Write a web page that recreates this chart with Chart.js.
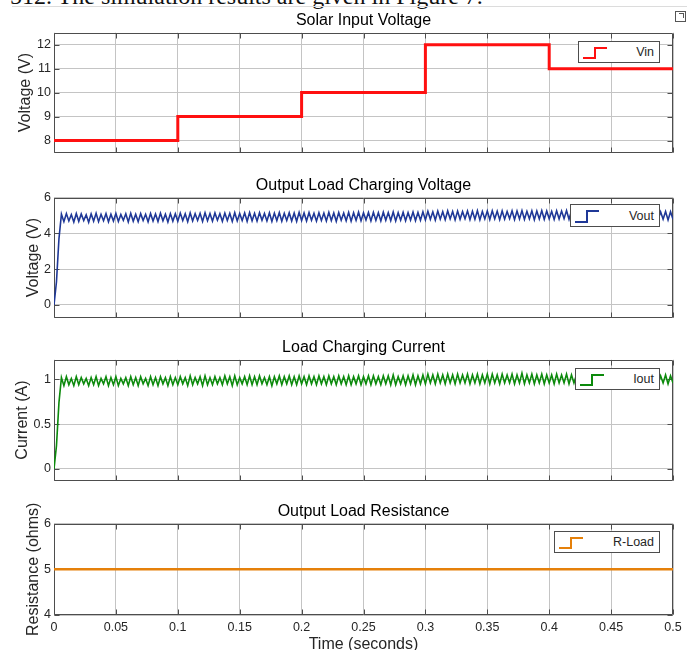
<!DOCTYPE html>
<html>
<head>
<meta charset="utf-8">
<script src="https://cdn.jsdelivr.net/npm/chart.js@4.4.1/dist/chart.umd.min.js"></script>
<style>
  body { margin: 0; width: 693px; height: 650px; overflow: hidden; background: #fff; position: relative; font-family: "Liberation Sans", Arial, sans-serif; }
  .panel { position: absolute; left: 0; }
  .legend { position: absolute; background: #fff; border: 1px solid #4d4d4d; box-sizing: border-box; }
  .legend svg { position: absolute; left: 0; top: 0; }
  .legend span { position: absolute; right: 5px; top: 50%; transform: translateY(-52%); font-size: 12.5px; color: #262626; white-space: nowrap; }
  #caption { position: absolute; left: 10px; top: -16px; font: 24px "Liberation Serif", "Times New Roman", serif; line-height: 24px; color: #111; white-space: nowrap; }
  #rule { position: absolute; left: 12px; top: 6px; width: 675px; height: 1px; background: #dcdcdc; }
  #undock { position: absolute; left: 675px; top: 11px; width: 9px; height: 9px; border: 1px solid #555; background: #fff; }
  #undock::after { content: ""; position: absolute; left: 3px; top: 1px; width: 4px; height: 4px; border-top: 1px solid #555; border-right: 1px solid #555; }
</style>
</head>
<body>
<div id="caption">512. The simulation results are given in Figure 7.</div>
<div id="rule"></div>
<div id="undock"></div>
<canvas id="c1" class="panel" width="693" height="163" style="top:0px"></canvas>
<canvas id="c2" class="panel" width="693" height="163" style="top:165px"></canvas>
<canvas id="c3" class="panel" width="693" height="164" style="top:327px"></canvas>
<canvas id="c4" class="panel" width="693" height="164" style="top:491px"></canvas>
<script>
// ---- data ----
const timeTicks = [0, 0.05, 0.1, 0.15, 0.2, 0.25, 0.3, 0.35, 0.4, 0.45, 0.5];
const timeTickLabels = ['0', '0.05', '0.1', '0.15', '0.2', '0.25', '0.3', '0.35', '0.4', '0.45', '0.5'];

// solar input: level that starts at each time
const vinTimes = [0, 0.1, 0.2, 0.3, 0.4, 0.5];
const vinLevels = [8, 9, 10, 12, 11, 11];
const vinTicks = [8, 9, 10, 11, 12];
const vinTickLabels = ['8', '9', '10', '11', '12'];

// measured traces, one sample every 2 ms from t = 0 to t = 0.5 s
const sampleStep = 0.002;
const voutSamples = [
  0, 1.3, 3.7, 5.08, 4.66, 5.11, 4.70, 5.06, 4.64, 5.12,
  4.68, 5.09, 4.72, 5.05, 4.63, 5.10, 4.69, 5.13, 4.66, 5.07,
  4.71, 5.11, 4.65, 5.08, 4.70, 5.12, 4.67, 5.06, 4.73, 5.10,
  4.64, 5.13, 4.69, 5.08, 4.66, 5.11, 4.72, 5.07, 4.65, 5.12,
  4.70, 5.09, 4.67, 5.13, 4.71, 5.08, 4.64, 5.11, 4.69, 5.10,
  4.68, 5.14, 4.72, 5.10, 4.66, 5.15, 4.70, 5.11, 4.73, 5.13,
  4.67, 5.16, 4.71, 5.12, 4.69, 5.15, 4.74, 5.11, 4.68, 5.14,
  4.72, 5.13, 4.67, 5.16, 4.70, 5.12, 4.73, 5.15, 4.68, 5.17,
  4.71, 5.13, 4.69, 5.16, 4.74, 5.12, 4.70, 5.15, 4.67, 5.14,
  4.72, 5.17, 4.69, 5.13, 4.73, 5.16, 4.70, 5.14, 4.68, 5.18,
  4.72, 5.15, 4.70, 5.17, 4.74, 5.13, 4.69, 5.16, 4.73, 5.14,
  4.70, 5.18, 4.72, 5.15, 4.68, 5.17, 4.74, 5.14, 4.71, 5.18,
  4.69, 5.16, 4.73, 5.19, 4.71, 5.15, 4.75, 5.17, 4.70, 5.18,
  4.73, 5.16, 4.70, 5.19, 4.74, 5.17, 4.72, 5.20, 4.70, 5.16,
  4.74, 5.19, 4.71, 5.17, 4.75, 5.20, 4.72, 5.18, 4.74, 5.21,
  4.76, 5.24, 4.79, 5.21, 4.75, 5.25, 4.80, 5.22, 4.77, 5.26,
  4.81, 5.23, 4.76, 5.25, 4.79, 5.22, 4.82, 5.26, 4.77, 5.24,
  4.80, 5.27, 4.76, 5.23, 4.81, 5.25, 4.78, 5.27, 4.82, 5.24,
  4.77, 5.26, 4.80, 5.23, 4.83, 5.27, 4.78, 5.25, 4.81, 5.28,
  4.79, 5.24, 4.82, 5.27, 4.77, 5.25, 4.81, 5.28, 4.79, 5.26,
  4.82, 5.24, 4.78, 5.27, 4.81, 5.25, 4.83, 5.28, 4.79, 5.26,
  4.82, 5.24, 4.80, 5.27, 4.78, 5.25, 4.82, 5.28, 4.80, 5.25,
  4.83, 5.27, 4.79, 5.24, 4.81, 5.28, 4.78, 5.26, 4.82, 5.25,
  4.80, 5.27, 4.83, 5.24, 4.79, 5.26, 4.81, 5.23, 4.78, 5.25,
  4.82, 5.22, 4.79, 5.24, 4.77, 5.21, 4.80, 5.23, 4.76, 5.22,
  4.79
];
const voutTicks = [0, 2, 4, 6];
const voutTickLabels = ['0', '2', '4', '6'];

const ioutSamples = [
  0, 0.26, 0.74, 1.02, 0.93, 1.03, 0.94, 1.01, 0.93, 1.03,
  0.94, 1.02, 0.95, 1.01, 0.93, 1.02, 0.94, 1.03, 0.93, 1.01,
  0.95, 1.03, 0.93, 1.02, 0.94, 1.03, 0.93, 1.01, 0.95, 1.02,
  0.93, 1.03, 0.94, 1.02, 0.93, 1.03, 0.95, 1.01, 0.93, 1.03,
  0.94, 1.02, 0.93, 1.03, 0.95, 1.02, 0.93, 1.03, 0.94, 1.02,
  0.94, 1.03, 0.95, 1.02, 0.93, 1.04, 0.94, 1.02, 0.95, 1.03,
  0.93, 1.04, 0.94, 1.02, 0.94, 1.03, 0.95, 1.02, 0.94, 1.04,
  0.95, 1.03, 0.93, 1.04, 0.94, 1.02, 0.95, 1.03, 0.94, 1.04,
  0.94, 1.03, 0.94, 1.04, 0.95, 1.02, 0.94, 1.03, 0.93, 1.03,
  0.95, 1.04, 0.94, 1.03, 0.95, 1.04, 0.94, 1.03, 0.94, 1.04,
  0.95, 1.03, 0.94, 1.04, 0.95, 1.03, 0.94, 1.04, 0.95, 1.03,
  0.94, 1.04, 0.95, 1.03, 0.94, 1.04, 0.95, 1.03, 0.94, 1.04,
  0.94, 1.03, 0.95, 1.04, 0.94, 1.03, 0.95, 1.04, 0.94, 1.04,
  0.95, 1.03, 0.94, 1.04, 0.95, 1.04, 0.94, 1.05, 0.94, 1.03,
  0.95, 1.04, 0.94, 1.04, 0.95, 1.05, 0.94, 1.04, 0.95, 1.05,
  0.95, 1.06, 0.96, 1.05, 0.95, 1.06, 0.96, 1.05, 0.95, 1.06,
  0.96, 1.05, 0.95, 1.06, 0.96, 1.05, 0.96, 1.06, 0.95, 1.05,
  0.96, 1.06, 0.95, 1.05, 0.96, 1.06, 0.95, 1.06, 0.96, 1.05,
  0.95, 1.06, 0.96, 1.05, 0.96, 1.06, 0.95, 1.05, 0.96, 1.07,
  0.95, 1.05, 0.96, 1.06, 0.95, 1.05, 0.96, 1.06, 0.95, 1.05,
  0.96, 1.05, 0.95, 1.06, 0.96, 1.05, 0.96, 1.06, 0.95, 1.05,
  0.96, 1.05, 0.96, 1.06, 0.95, 1.05, 0.96, 1.06, 0.96, 1.05,
  0.96, 1.06, 0.95, 1.05, 0.96, 1.06, 0.95, 1.05, 0.96, 1.05,
  0.96, 1.06, 0.96, 1.05, 0.95, 1.05, 0.96, 1.04, 0.95, 1.05,
  0.96, 1.04, 0.95, 1.05, 0.95, 1.04, 0.96, 1.05, 0.95, 1.04,
  0.96
];
const ioutTicks = [0, 0.5, 1];
const ioutTickLabels = ['0', '0.5', '1'];

const rloadTimes = [0, 0.5];
const rloadLevels = [5, 5];
const rloadTicks = [4, 5, 6];
const rloadTickLabels = ['4', '5', '6'];

// ---- styling ----
const FONT = '"Liberation Sans", Arial, sans-serif';
const GRID = '#c4c4c4';
const TICK = '#262626';

const toPoints = (xs, ys) => ys.map((y, i) => ({ x: xs[i], y: y }));
const sampled = ys => ys.map((y, i) => ({ x: i * sampleStep, y: y }));

// MATLAB-like box with inward ticks on all four sides
const axesBox = {
  id: 'axesBox',
  beforeDatasetsDraw(chart) {
    const { ctx, chartArea: a, scales } = chart;
    const L = Math.round(a.left) + 0.5, R = Math.round(a.right) - 0.5;
    const T = Math.round(a.top) + 0.5, B = Math.round(a.bottom) - 0.5;
    ctx.save();
    ctx.strokeStyle = '#4d4d4d';
    ctx.lineWidth = 1;
    ctx.beginPath();
    scales.x.ticks.forEach(t => {
      const x = Math.round(scales.x.getPixelForValue(t.value)) + 0.5;
      ctx.moveTo(x, B); ctx.lineTo(x, B - 5);
      ctx.moveTo(x, T); ctx.lineTo(x, T + 5);
    });
    scales.y.ticks.forEach(t => {
      const y = Math.round(scales.y.getPixelForValue(t.value)) + 0.5;
      ctx.moveTo(L, y); ctx.lineTo(L + 5, y);
      ctx.moveTo(R, y); ctx.lineTo(R - 5, y);
    });
    ctx.rect(L, T, R - L, B - T);
    ctx.stroke();
    ctx.restore();
  }
};

const panels = [
  {
    id: 'c1', title: 'Solar Input Voltage', yLabel: 'Voltage (V)', yLabelPad: 16,
    yMin: 7.5, yMax: 12.5, yTicks: vinTicks, yTickLabels: vinTickLabels, showTime: false,
    legend: { left: 578, top: 41, width: 82, height: 22 },
    dataset: { label: 'Vin', data: toPoints(vinTimes, vinLevels), borderColor: '#ff1010', borderWidth: 3, stepped: 'before' }
  },
  {
    id: 'c2', title: 'Output Load Charging Voltage', yLabel: 'Voltage (V)', yLabelPad: 24,
    yMin: -0.7, yMax: 6, yTicks: voutTicks, yTickLabels: voutTickLabels, showTime: false,
    legend: { left: 570, top: 204, width: 90, height: 23 },
    dataset: { label: 'Vout', data: sampled(voutSamples), borderColor: '#1f3897', borderWidth: 1.6 }
  },
  {
    id: 'c3', title: 'Load Charging Current', yLabel: 'Current (A)', yLabelPad: 13,
    yMin: -0.13, yMax: 1.22, yTicks: ioutTicks, yTickLabels: ioutTickLabels, showTime: false,
    legend: { left: 575, top: 368, width: 85, height: 22 },
    dataset: { label: 'Iout', data: sampled(ioutSamples), borderColor: '#0c8a0c', borderWidth: 1.6 }
  },
  {
    id: 'c4', title: 'Output Load Resistance', yLabel: 'Resistance (ohms)', yLabelPad: 24,
    yMin: 4, yMax: 6, yTicks: rloadTicks, yTickLabels: rloadTickLabels, showTime: true,
    legend: { left: 554, top: 531, width: 106, height: 22 },
    dataset: { label: 'R-Load', data: toPoints(rloadTimes, rloadLevels), borderColor: '#e5800a', borderWidth: 2.5 }
  }
];

function makeChart(p) {
  return new Chart(document.getElementById(p.id), {
    type: 'line',
    data: { datasets: [Object.assign({ fill: false, pointRadius: 0, tension: 0 }, p.dataset)] },
    options: {
      responsive: false,
      animation: false,
      events: [],
      layout: { padding: { left: 0, right: 20, top: 0, bottom: p.showTime ? 0 : 8 } },
      plugins: {
        legend: { display: false },
        tooltip: { enabled: false },
        title: {
          display: true, text: p.title, fullSize: false, color: '#000',
          font: { family: FONT, size: 16, weight: 'normal' },
          padding: { top: 11.4, bottom: 2.1 }
        }
      },
      scales: {
        x: {
          type: 'linear', min: 0, max: 0.5,
          afterBuildTicks: s => { s.ticks = timeTicks.map(v => ({ value: v })); },
          afterFit: s => { s.height = p.showTime ? 40 : 0; },
          grid: { color: GRID, drawTicks: false },
          border: { display: false },
          ticks: {
            display: p.showTime, padding: 5, color: TICK, autoSkip: false, maxRotation: 0,
            font: { family: FONT, size: 12.5 },
            callback: (v, i) => timeTickLabels[i]
          },
          title: {
            display: p.showTime, text: 'Time (seconds)', color: TICK,
            font: { family: FONT, size: 16 }, padding: { top: 0, bottom: 1 }
          }
        },
        y: {
          min: p.yMin, max: p.yMax,
          afterBuildTicks: s => { s.ticks = p.yTicks.map(v => ({ value: v })); },
          afterFit: s => { s.width = 54; },
          grid: { color: GRID, drawTicks: false },
          border: { display: false },
          ticks: {
            padding: 3, color: TICK, autoSkip: false,
            font: { family: FONT, size: 12.5 },
            callback: (v, i) => p.yTickLabels[i]
          },
          title: {
            display: true, text: p.yLabel, color: TICK,
            font: { family: FONT, size: 16 }, padding: { top: p.yLabelPad, bottom: 0 }
          }
        }
      }
    },
    plugins: [axesBox]
  });
}

// boxed legend with a little step glyph, placed like MATLAB's 'northeast' legend
function addLegend(chart, box) {
  const ds = chart.data.datasets[0];
  const div = document.createElement('div');
  div.className = 'legend';
  div.style.left = box.left + 'px';
  div.style.top = box.top + 'px';
  div.style.width = box.width + 'px';
  div.style.height = box.height + 'px';
  const h = box.height - 2;
  const svgNS = 'http://www.w3.org/2000/svg';
  const svg = document.createElementNS(svgNS, 'svg');
  svg.setAttribute('width', 36);
  svg.setAttribute('height', h);
  const line = document.createElementNS(svgNS, 'polyline');
  line.setAttribute('points', `4,${h - 4} 16,${h - 4} 16,6 28,6`);
  line.setAttribute('fill', 'none');
  line.setAttribute('stroke', ds.borderColor);
  line.setAttribute('stroke-width', 2);
  svg.appendChild(line);
  const label = document.createElement('span');
  label.textContent = ds.label;
  div.appendChild(svg);
  div.appendChild(label);
  document.body.appendChild(div);
}

panels.forEach(p => {
  const chart = makeChart(p);
  addLegend(chart, p.legend);
});
</script>
</body>
</html>
